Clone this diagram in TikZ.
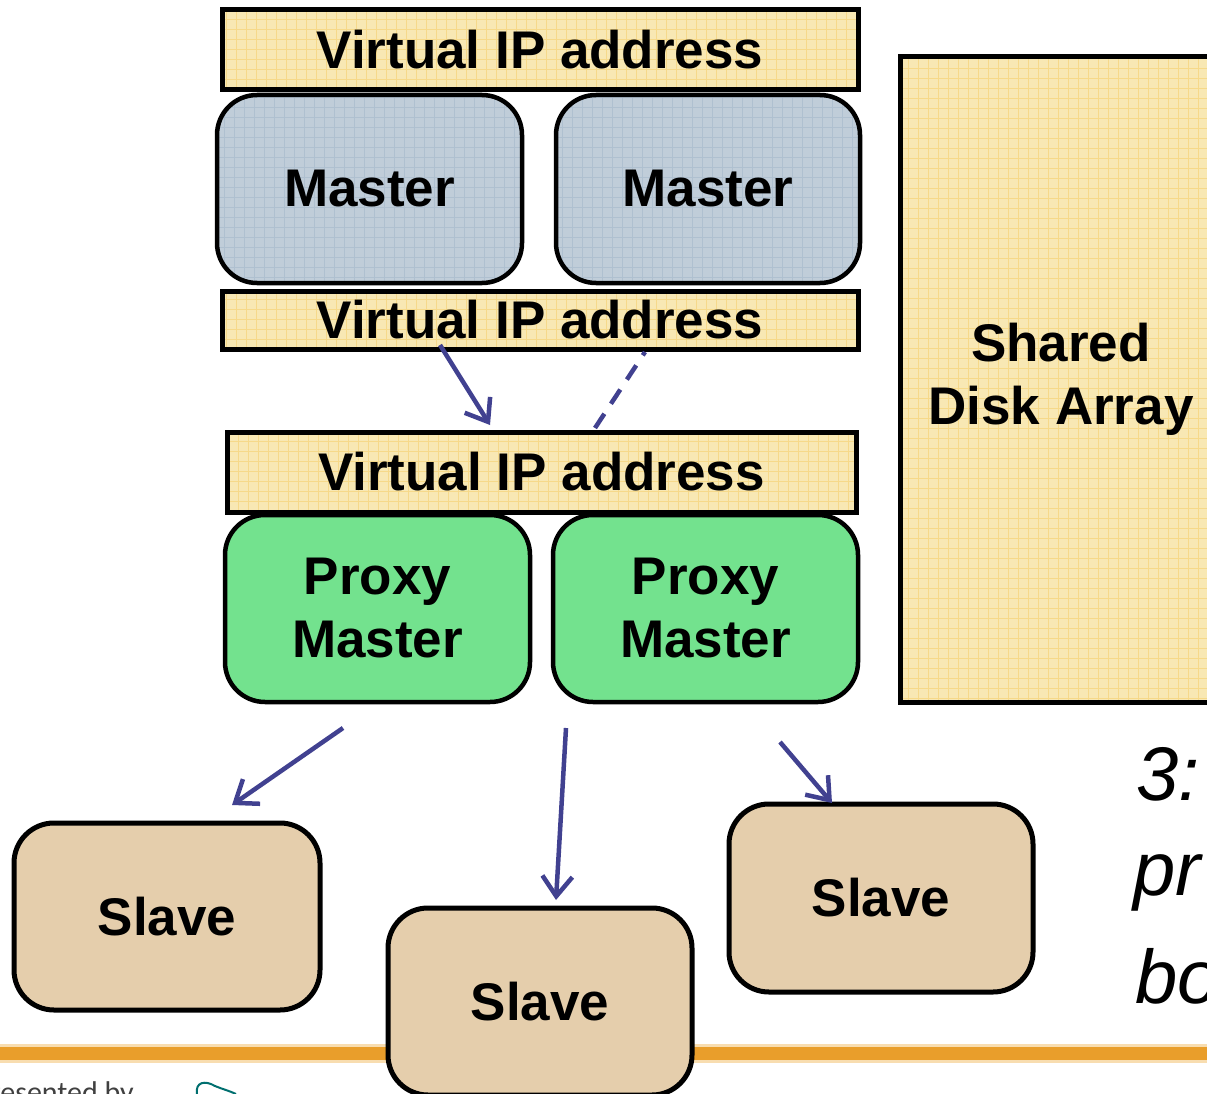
\documentclass[tikz,border=0pt]{standalone}
\usepackage{fontspec}
\setmainfont{Liberation Sans}
\newfontfamily\carl{Carlito}
\usetikzlibrary{arrows.meta}
\definecolor{vipfill}{HTML}{F8E8B4}
\definecolor{vipgrid}{HTML}{F6D98A}
\definecolor{masterfill}{HTML}{C0CDD9}
\definecolor{mastergrid}{HTML}{AFC0D0}
\definecolor{proxyfill}{HTML}{73E28E}
\definecolor{slavefill}{HTML}{E5CEAC}
\definecolor{arrowc}{HTML}{414190}
\definecolor{orangec}{HTML}{E99E2B}
\definecolor{orangelt}{HTML}{F8DDB0}
\newcommand\bigtxt{\fontsize{53}{63}\selectfont\bfseries}
\tikzset{
  gridded/.style={path picture={\draw[#1,line width=0.8pt] (path picture bounding box.south west) grid[step=10pt] (path picture bounding box.north east);}},
  vipbox/.style={draw=black, line width=5pt, fill=vipfill, gridded=vipgrid, inner sep=0pt, font=\bigtxt},
  masterbox/.style={draw=black, line width=4.5pt, fill=masterfill, gridded=mastergrid, rounded corners=40pt, inner sep=0pt, font=\bigtxt, minimum width=305pt, minimum height=188pt},
  proxybox/.style={draw=black, line width=4.5pt, fill=proxyfill, rounded corners=40pt, inner sep=0pt, font=\bigtxt, align=center, minimum width=305pt, minimum height=187pt},
  slavebox/.style={draw=black, line width=5pt, fill=slavefill, rounded corners=40pt, inner sep=0pt, font=\bigtxt, minimum width=304pt, minimum height=187pt},
  diskbox/.style={draw=black, line width=5pt, fill=vipfill, gridded=vipgrid, inner sep=0pt, font=\bigtxt, align=center},
  flow/.style={draw=arrowc, line width=4.5pt, -{Straight Barb[length=20pt,width=30pt]}},
  flowdash/.style={draw=arrowc, line width=4.5pt, dash pattern=on 17pt off 12pt},
  sidetxt/.style={font=\fontsize{76}{100}\selectfont\itshape, anchor=base west, inner sep=0pt}
}
\begin{document}
\begin{tikzpicture}[x=1pt,y=-1pt]
\useasboundingbox (0,0) rectangle (1207,1094);
\clip (0,0) rectangle (1207,1094);
\fill[white] (0,0) rectangle (1207,1094);
% orange footer band
\fill[orangelt] (0,1044) rectangle (1207,1063);
\fill[orangec] (0,1047) rectangle (1207,1060);
\node[font=\carl\fontsize{30}{36}\selectfont, text=black!75, anchor=base east, inner sep=0pt] (pres) at (134,1102) {Presented by};
\draw[draw=teal!55!cyan!60!black, line width=2pt] (197,1094) .. controls (195,1082) and (205,1080) .. (215,1086) .. controls (222,1089) and (230,1091) .. (236,1094);
% boxes
\node[vipbox, minimum width=636pt, minimum height=80pt] (vip1) at (540,50) {Virtual IP address};
\node[masterbox] (m1) at (369.5,189) {Master};
\node[masterbox, minimum width=304pt] (m2) at (708,189) {Master};
\node[vipbox, minimum width=636pt, minimum height=58pt] (vip2) at (540,320) {Virtual IP address};
\node[vipbox, minimum width=629pt, minimum height=80pt] (vip3) at (541.5,472) {Virtual IP address};
\node[proxybox] (p1) at (377.5,608.5) {Proxy\\Master};
\node[proxybox] (p2) at (705.5,608.5) {Proxy\\Master};
\node[diskbox, minimum width=322pt, minimum height=645pt] (disk) at (1061,379.5) {\raisebox{-6pt}{Shared}\\\raisebox{-6pt}{Disk Array}};
\node[slavebox, minimum width=306pt] (s1) at (167,916.5) {Slave};
\node[slavebox] (s2) at (540,1001.5) {Slave};
\node[slavebox, minimum height=188pt] (s3) at (881,898) {Slave};
% side text (cut by the page edge)
\node[sidetxt] (t1) at (1136,800) {3:};
\node[sidetxt] (t2) at (1133,895) {pr};
\node[sidetxt] (t3) at (1135,1003) {bo};
% connector end points
\coordinate (a1s) at (440,345); \coordinate (a1e) at (490,425);
\coordinate (d1s) at (645,352); \coordinate (d1e) at (595,428);
\coordinate (b1s) at (343,728); \coordinate (b1e) at (232,805);
\coordinate (b2s) at (566,728); \coordinate (b2e) at (556,900);
\coordinate (b3s) at (780,742); \coordinate (b3e) at (832,803);
\draw[flow] (a1s) -- (a1e);
\draw[flowdash] (d1e) -- (d1s);
\draw[flow] (b1s) -- (b1e);
\draw[flow] (b2s) -- (b2e);
\draw[flow] (b3s) -- (b3e);
\end{tikzpicture}
\end{document}
